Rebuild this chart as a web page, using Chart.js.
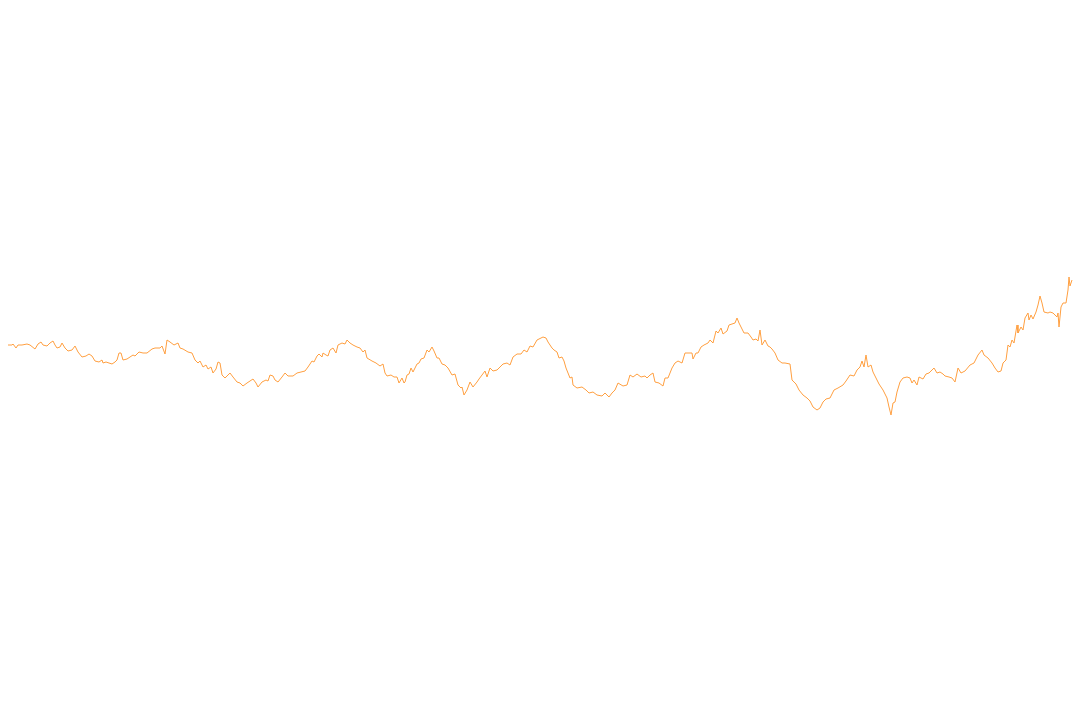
<!DOCTYPE html>
<html>
<head>
<meta charset="utf-8">
<script src="https://cdn.jsdelivr.net/npm/chart.js@4/dist/chart.umd.min.js"></script>
<style>
html,body{margin:0;padding:0;background:#fff;}
#wrap{width:1080px;height:720px;position:relative;}
</style>
</head>
<body>
<div id="wrap"><canvas id="c" width="1080" height="720"></canvas></div>
<script>
const days = [0,4,5,8,10,14,19,22,27,30,33,35,39,42,45,47,49,52,54,57,60,64,67,70,74,78,81,84,87,91,94,95,98,101,104,107,109,111,113,115,119,122,125,127,
131,135,139,144,147,152,154,157,159,162,166,170,172,175,180,184,187,190,192,195,198,200,203,205,208,210,212,214,217,220,222,225,229,232,235,239,242,245,248,250,254,258,260,262,
265,267,270,274,277,280,285,289,293,297,300,304,306,309,311,314,315,318,320,322,325,328,330,334,337,339,342,345,349,352,355,357,359,364,368,372,375,377,379,383,386,389,391,394,396,
397,399,401,403,405,409,411,413,416,419,421,424,426,429,431,434,437,440,444,447,450,453,454,456,459,462,465,469,471,474,477,479,482,485,489,492,495,499,502,505,509,513,516,519,522,525,529,531,
535,538,540,544,546,549,551,554,556,558,560,562,564,565,569,574,578,581,585,589,594,597,601,604,607,610,615,619,622,625,629,633,637,639,642,645,647,651,655,657,660,664,667,
670,674,677,681,684,685,688,690,693,696,700,702,705,708,710,713,715,719,721,724,727,729,731,734,736,740,743,745,748,750,752,754,757,760,762,764,767,770,774,777,782,784,788,791,795,799,802,
805,809,812,815,818,822,826,830,835,838,842,846,849,852,854,856,858,860,863,865,868,871,875,879,881,883,885,887,889,892,895,899,902,904,906,909,911,915,918,921,924,926,929,932,935,
937,941,944,947,950,953,957,962,966,970,974,976,980,984,987,990,993,995,998,1000,1002,1004,1006,1009,1010,1013,1015,1017,1020,1021,1023,1025,1028,1030,1032,1034,1036,1040,1042,1045,1049,1050,1051,1053,1055,1058,1060,1061,1062,1064];

const levels = [375,375,376,372,375,375,376,375,371,376,378,375,374,377,379,375,372,373,377,372,369,370,374,368,363,364,366,364,359,358,360,357,358,357,356,358,360,367,367,360,361,363,365,364,
368,367,367,371,372,372,374,366,380,378,375,377,372,371,368,367,360,357,359,353,355,351,353,347,351,358,357,345,342,345,347,343,338,337,334,337,339,341,337,333,338,340,339,345,
344,340,338,343,347,344,344,347,348,349,353,359,358,364,366,363,367,365,364,370,372,367,375,377,376,380,377,375,373,372,368,370,362,359,357,354,356,347,344,345,343,343,337,342,337,
338,345,346,352,348,356,357,361,362,370,368,373,369,362,362,356,355,352,345,346,335,332,333,325,330,338,333,338,341,345,349,343,352,349,350,353,356,357,355,363,366,366,370,368,374,373,380,381,
383,382,378,372,370,368,362,363,359,352,347,342,343,335,332,333,330,327,328,325,324,327,323,327,330,337,334,335,345,343,346,343,344,342,345,347,338,337,334,342,342,352,357,
359,357,367,367,367,361,367,367,373,375,377,380,377,389,387,392,386,389,395,396,397,402,397,391,387,387,383,380,381,379,390,375,380,374,373,371,367,360,357,357,356,340,336,330,325,322,319,
313,310,312,318,321,322,330,332,335,339,345,344,350,353,359,353,365,353,355,348,342,336,330,322,313,305,317,318,328,338,342,343,342,337,340,335,343,341,346,347,350,352,347,348,346,
344,343,342,338,352,347,349,355,357,365,370,365,362,357,352,348,349,357,360,375,373,380,377,395,387,393,390,402,407,400,405,401,408,415,424,417,408,407,408,407,403,407,393,413,417,417,430,443,434,440];

const pts = days.map((d, i) => ({x: d, y: levels[i]}));

new Chart(document.getElementById('c'), {
  type: 'line',
  data: {
    datasets: [{
      data: pts,
      borderColor: 'rgb(255,159,64)',
      borderWidth: 1,
      pointRadius: 0,
      tension: 0,
      fill: false
    }]
  },
  options: {
    responsive: false,
    animation: false,
    layout: {padding: 0},
    plugins: {legend: {display: false}, tooltip: {enabled: false}},
    scales: {
      x: {type: 'linear', min: -8, max: 1072, display: false},
      y: {min: 0, max: 720, display: false}
    }
  }
});
</script>
</body>
</html>
